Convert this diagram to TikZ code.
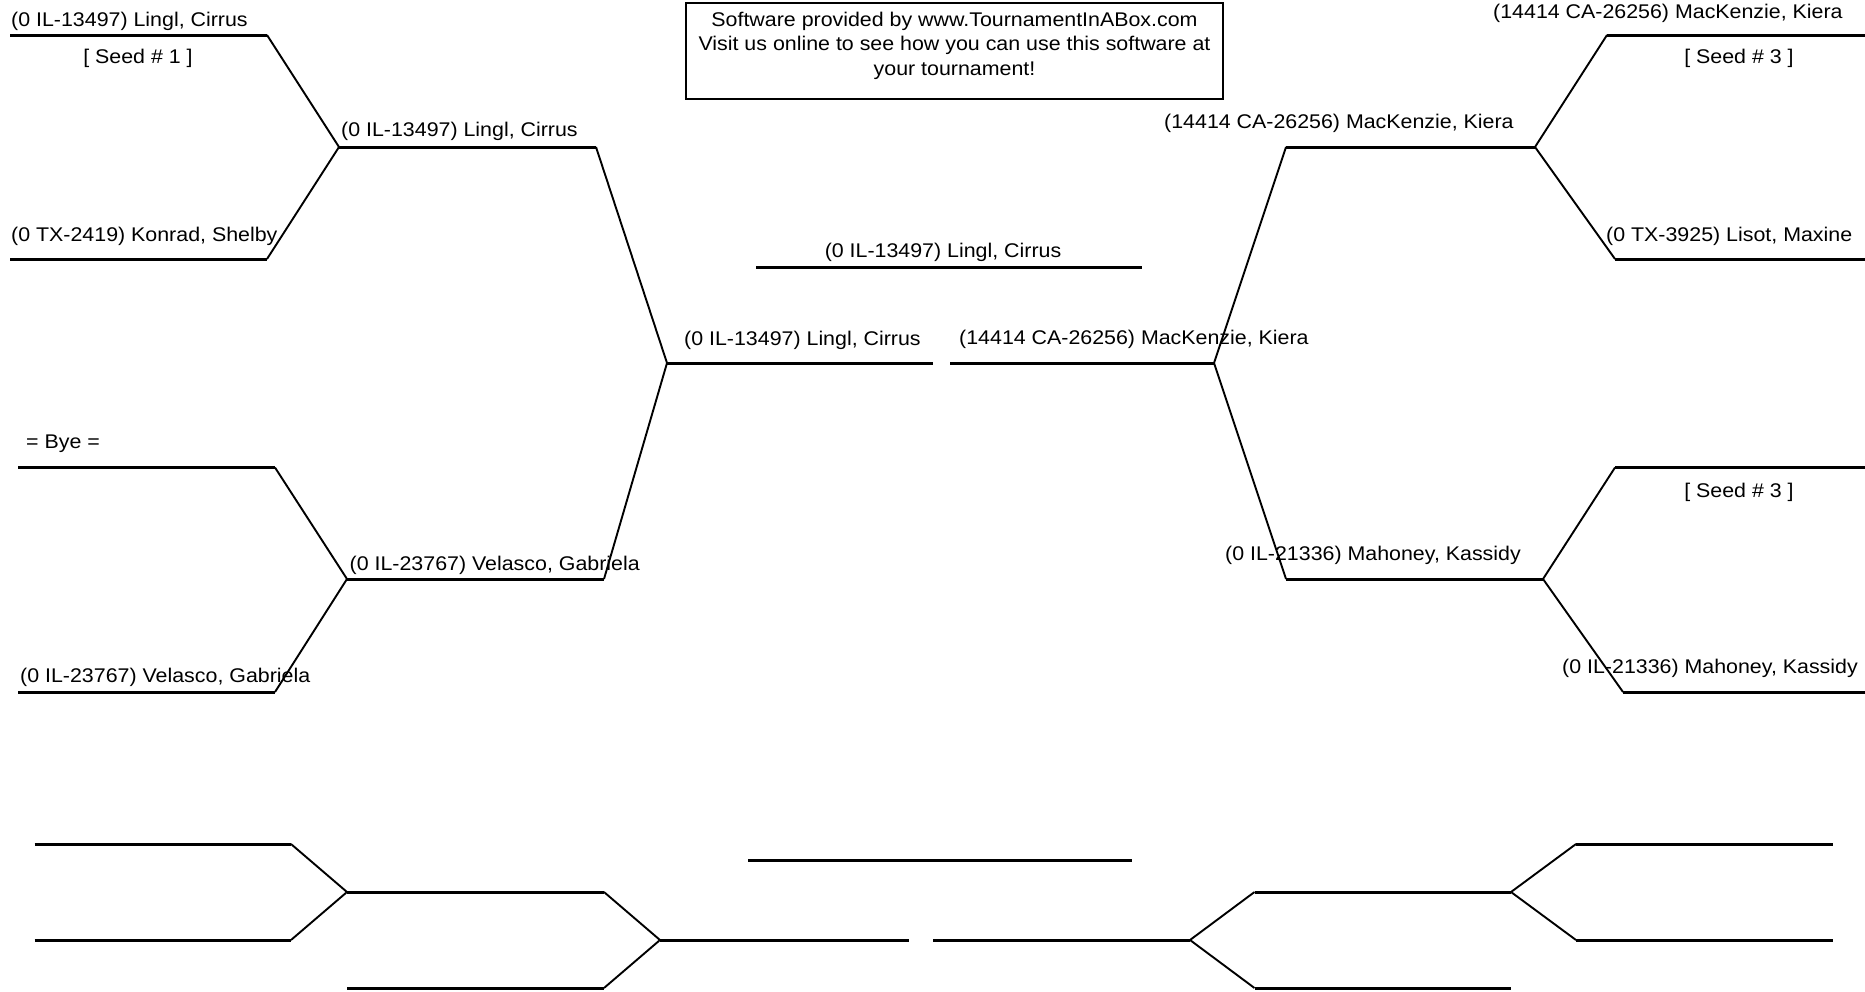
\documentclass[tikz,border=0pt]{standalone}
\usepackage{fontspec}
\setmainfont[FakeStretch=1.08]{Liberation Sans}
\begin{document}
\begin{tikzpicture}[x=1pt,y=-1pt,
  hline/.style={line width=3pt},
  dline/.style={line width=1.9pt},
  lbl/.style={inner sep=0pt, font=\fontsize{19.8}{24.5}\selectfont, anchor=base west},
  clbl/.style={inner sep=0pt, font=\fontsize{19.8}{24.5}\selectfont, anchor=base},
  frame/.style={draw, line width=1.3pt, inner sep=0pt}]
\useasboundingbox (0,0) rectangle (1865,991);
% ---------- main bracket coordinates ----------
\coordinate (a1s) at (10,35);     \coordinate (a1e) at (267,35);
\coordinate (a2s) at (10,259);    \coordinate (a2e) at (267,259);
\coordinate (b1s) at (339,147);   \coordinate (b1e) at (596,147);
\coordinate (a3s) at (18,467.5);  \coordinate (a3e) at (275,467.5);
\coordinate (a4s) at (18,692);    \coordinate (a4e) at (275,692);
\coordinate (b2s) at (347,579);   \coordinate (b2e) at (604,579);
\coordinate (c1s) at (667,363);   \coordinate (c1e) at (933,363);
\coordinate (chs) at (756,267);   \coordinate (che) at (1142,267);
\coordinate (c2s) at (950,363);   \coordinate (c2e) at (1214,363);
\coordinate (d1s) at (1286,147);  \coordinate (d1e) at (1535,147);
\coordinate (d2s) at (1286,579);  \coordinate (d2e) at (1543,579);
\coordinate (e1s) at (1607,35);   \coordinate (e1e) at (1865,35);
\coordinate (e2s) at (1615,259);  \coordinate (e2e) at (1865,259);
\coordinate (e3s) at (1615,467.5);\coordinate (e3e) at (1865,467.5);
\coordinate (e4s) at (1623,692);  \coordinate (e4e) at (1865,692);
% horizontals
\foreach \n in {a1,a2,a3,a4,b1,b2,c1,ch,c2,d1,d2,e1,e2,e3,e4}
  \draw[hline] (\n s) -- (\n e);
% diagonals
\draw[dline] (a1e) -- (b1s) -- (a2e);
\draw[dline] (a3e) -- (b2s) -- (a4e);
\draw[dline] (b1e) -- (c1s) -- (b2e);
\draw[dline] (d1s) -- (c2e) -- (d2s);
\draw[dline] (e1s) -- (d1e) -- (e2s);
\draw[dline] (e3s) -- (d2e) -- (e4s);
% ---------- labels ----------
\node[lbl] (t1) at (11,26.5) {(0 IL-13497) Lingl, Cirrus};
\node[clbl] (s1) at (138,63) {[ Seed \# 1 ]};
\node[lbl] (t2) at (11,241) {(0 TX-2419) Konrad, Shelby};
\node[lbl] (t3) at (341,136) {(0 IL-13497) Lingl, Cirrus};
\node[lbl] (t4) at (26,448) {= Bye =};
\node[lbl] (t5) at (20,682) {(0 IL-23767) Velasco, Gabriela};
\node[lbl] (t6) at (349.5,570) {(0 IL-23767) Velasco, Gabriela};
\node[lbl] (t7) at (684,345) {(0 IL-13497) Lingl, Cirrus};
\node[clbl] (t8) at (943,257) {(0 IL-13497) Lingl, Cirrus};
\node[lbl] (t9) at (959,344) {(14414 CA-26256) MacKenzie, Kiera};
\node[lbl] (t10) at (1164,128) {(14414 CA-26256) MacKenzie, Kiera};
\node[lbl] (t11) at (1493,18) {(14414 CA-26256) MacKenzie, Kiera};
\node[clbl] (s2) at (1739,63) {[ Seed \# 3 ]};
\node[lbl] (t12) at (1606,241) {(0 TX-3925) Lisot, Maxine};
\node[lbl] (t13) at (1225,560) {(0 IL-21336) Mahoney, Kassidy};
\node[clbl] (s3) at (1739,497) {[ Seed \# 3 ]};
\node[lbl] (t14) at (1562,673) {(0 IL-21336) Mahoney, Kassidy};
% ---------- advert box ----------
\node[frame, minimum width=537pt, minimum height=96pt] (box) at (954.5,51) {};
\node[inner sep=0pt, align=center, font=\fontsize{19.8}{24.5}\selectfont] (boxtext) at (954.5,45.5)
  {Software provided by www.TournamentInABox.com\\Visit us online to see how you can use this software at\\your tournament!};
% ---------- empty lower bracket ----------
\coordinate (m1s) at (34.5,844);  \coordinate (m1e) at (291,844);
\coordinate (m2s) at (34.5,940);  \coordinate (m2e) at (291,940);
\coordinate (n1s) at (347,892);   \coordinate (n1e) at (604,892);
\coordinate (n2s) at (347,988);   \coordinate (n2e) at (604,988);
\coordinate (o1s) at (660,940);   \coordinate (o1e) at (909,940);
\coordinate (ozs) at (748,860);   \coordinate (oze) at (1132,860);
\coordinate (o2s) at (933,940);   \coordinate (o2e) at (1190,940);
\coordinate (p1s) at (1254.5,892);\coordinate (p1e) at (1511,892);
\coordinate (p2s) at (1254.5,988);\coordinate (p2e) at (1511,988);
\coordinate (q1s) at (1576,844);  \coordinate (q1e) at (1833,844);
\coordinate (q2s) at (1576,940);  \coordinate (q2e) at (1833,940);
\foreach \n in {m1,m2,n1,n2,o1,oz,o2,p1,p2,q1,q2}
  \draw[hline] (\n s) -- (\n e);
\draw[dline] (m1e) -- (n1s) -- (m2e);
\draw[dline] (n1e) -- (o1s) -- (n2e);
\draw[dline] (p1s) -- (o2e) -- (p2s);
\draw[dline] (q1s) -- (p1e) -- (q2s);
\end{tikzpicture}
\end{document}
